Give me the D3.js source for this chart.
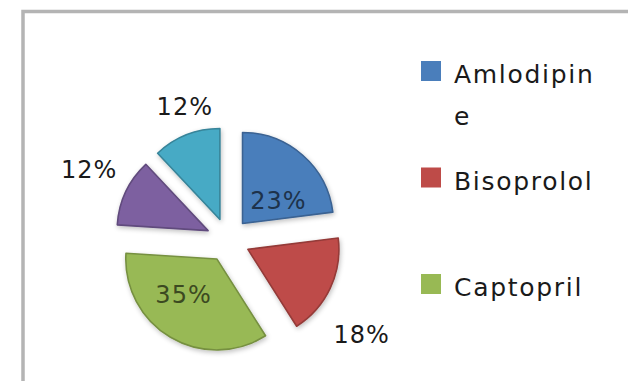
<!DOCTYPE html>
<html>
<head>
<meta charset="utf-8">
<script src="https://cdn.jsdelivr.net/npm/d3@7"></script>
<style>
  body { margin: 0; background: #fff; overflow: hidden; }
  svg { display: block; font-family: "DejaVu Sans", sans-serif; }
</style>
</head>
<body>
<svg id="chart" width="628" height="381"></svg>
<script>
// values (share of prescriptions, %)
const drugs = ["Amlodipine", "Bisoprolol", "Captopril", "Other A", "Other B"];
const shares = [23, 18, 35, 12, 12];
const colors = ["#4a7ebb", "#be4b48", "#98b954", "#7d60a0", "#46aac5"];
// where each label goes: inside the slice or outside it
const labelInside = [true, false, true, false, false];

const svg = d3.select("#chart");
const W = +svg.attr("width"), H = +svg.attr("height");

// chart area frame (runs past the right and bottom edges)
svg.append("rect")
  .attr("x", 23).attr("y", 11.5)
  .attr("width", 700).attr("height", 500)
  .attr("fill", "#fff")
  .attr("stroke", "#b4b4b4")
  .attr("stroke-width", 3.5);

const defs = svg.append("defs");
const shadow = defs.append("filter").attr("id", "soft")
  .attr("x", "-20%").attr("y", "-20%").attr("width", "140%").attr("height", "140%");
shadow.append("feGaussianBlur").attr("in", "SourceAlpha").attr("stdDeviation", 2.5).attr("result", "b");
shadow.append("feOffset").attr("dx", 1).attr("dy", 1.5).attr("result", "o");
shadow.append("feComponentTransfer").append("feFuncA").attr("type", "linear").attr("slope", 0.25);
const merge = shadow.append("feMerge");
merge.append("feMergeNode");
merge.append("feMergeNode").attr("in", "SourceGraphic");

const cx = 228, cy = 240, r = 91, explode = 22;

const pie = d3.pie().sort(null).value(d => d);
const arcs = pie(shares);
const arc = d3.arc().innerRadius(0).outerRadius(r);

const g = svg.append("g").attr("transform", `translate(${cx},${cy})`);

function offset(a, dist) {
  const m = (a.startAngle + a.endAngle) / 2;
  return [Math.sin(m) * dist, -Math.cos(m) * dist];
}

const slices = g.selectAll("g.slice")
  .data(arcs)
  .join("g")
  .attr("class", "slice")
  .attr("transform", d => `translate(${offset(d, explode)})`);

slices.append("path")
  .attr("d", arc)
  .attr("fill", (d, i) => colors[i])
  .attr("stroke", (d, i) => d3.color(colors[i]).darker(0.7))
  .attr("stroke-width", 1.6)
  .attr("stroke-linejoin", "round")
  .attr("filter", "url(#soft)");

// labels: Excel best-fit sits a bit past the middle of each slice,
// outside ones keep a gap between the arc and the label box
const boxW = 60, boxH = 24;
slices.append("text")
  .attr("transform", (d, i) => {
    const a = d.startAngle + (d.endAngle - d.startAngle) * 0.63;
    let dist;
    if (labelInside[i]) {
      dist = r * 0.5;
    } else {
      const ext = Math.min(boxW / 2 / Math.abs(Math.sin(a)), boxH / 2 / Math.abs(Math.cos(a)));
      dist = r + 24 + ext;
    }
    return `translate(${Math.sin(a) * dist},${-Math.cos(a) * dist})`;
  })
  .attr("text-anchor", "middle")
  .attr("dy", (d, i) => labelInside[i] ? "0.55em" : "0.75em")
  .attr("font-size", 24)
  .attr("letter-spacing", 1)
  .attr("fill", (d, i) => labelInside[i] ? d3.color(colors[i]).darker(2.6) : "#1a1a1a")
  .text(d => d.data + "%");

// legend (entries that fall below the frame are not shown)
const legend = svg.append("g").attr("transform", "translate(421,0)");
const legendY = d3.scaleLinear().domain([0, 1]).range([71, 177.5]);
const maxW = 150;

drugs.forEach((name, i) => {
  const y = legendY(i);
  if (y + 10 > H) return;
  legend.append("rect")
    .attr("x", 0).attr("y", y - 10)
    .attr("width", 20).attr("height", 20)
    .attr("fill", colors[i]);
  const t = legend.append("text")
    .attr("x", 33).attr("y", y + 12)
    .attr("font-size", 25)
    .attr("letter-spacing", 1.7)
    .attr("fill", "#1a1a1a");
  // wrap by characters like the original legend does
  let line = "";
  let ts = t.append("tspan").attr("x", 33).attr("dy", 0);
  for (const ch of name) {
    ts.text(line + ch);
    if (ts.node().getComputedTextLength() > maxW && line.length) {
      ts.text(line);
      line = ch;
      ts = t.append("tspan").attr("x", 33).attr("dy", 42).text(line);
    } else {
      line += ch;
    }
  }
});
</script>
</body>
</html>
